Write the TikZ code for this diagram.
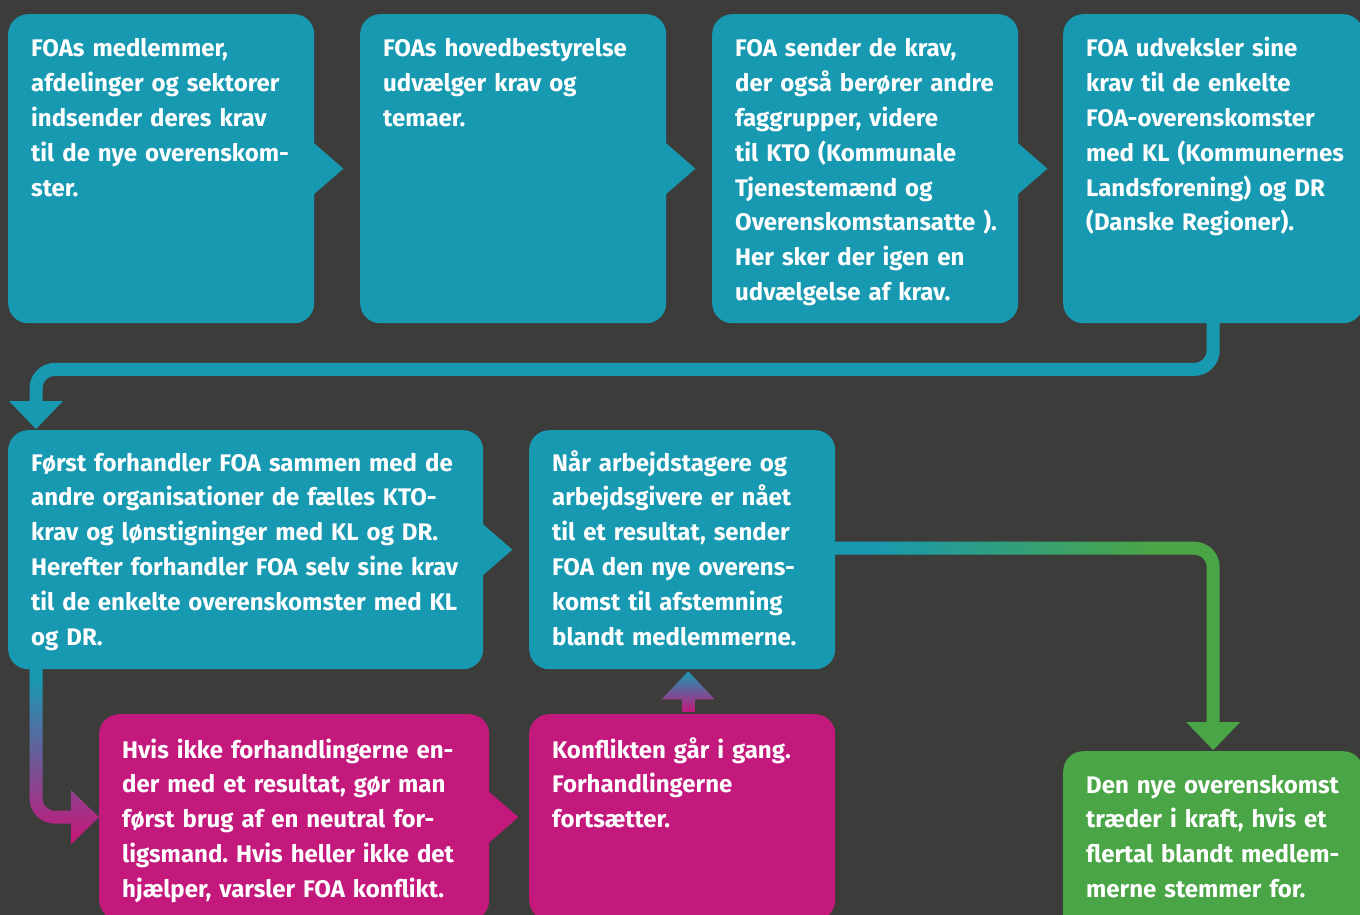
\documentclass[tikz,border=0pt]{standalone}
\usepackage{fontspec}
\setmainfont{Fira Sans}
\usetikzlibrary{arrows.meta,calc}
\definecolor{bg}{HTML}{3C3C3B}
\definecolor{foateal}{HTML}{1899B2}
\definecolor{foamag}{HTML}{C3197C}
\definecolor{foagreen}{HTML}{4AA547}
\frenchspacing
\tikzset{
  box/.style={anchor=north west, inner sep=0pt, rounded corners=20pt, draw=none},
  txt/.style={anchor=base west, inner sep=0pt, text=white,
    font=\fontsize{24}{34.8}\selectfont\bfseries\frenchspacing, text width=480pt, align=left},
  conn/.style={line width=13pt, rounded corners=19pt},
  tip/.style={-{Triangle[width=54pt,length=28pt,line width=0pt]}},
}
\begin{document}
\begin{tikzpicture}[x=1pt,y=-1pt]
\useasboundingbox (0,0) rectangle (1360,915);
\clip (0,0) rectangle (1360,915);
\fill[bg] (0,0) rectangle (1360,915);

% boxes
\node[box, fill=foateal, minimum width=306pt, minimum height=309pt] (b1) at (8,14) {};
\node[box, fill=foateal, minimum width=306pt, minimum height=309pt] (b2) at (360,14) {};
\node[box, fill=foateal, minimum width=306pt, minimum height=309pt] (b3) at (712,14) {};
\node[box, fill=foateal, minimum width=300pt, minimum height=309pt] (b4) at (1063,14) {};
\node[box, fill=foateal, minimum width=475pt, minimum height=239pt] (b5) at (8,430) {};
\node[box, fill=foateal, minimum width=306pt, minimum height=239pt] (b6) at (529,430) {};
\node[box, fill=foamag, minimum width=390pt, minimum height=206pt] (b7) at (99,714) {};
\node[box, fill=foamag, minimum width=306pt, minimum height=206pt] (b8) at (529,714) {};
\node[box, fill=foagreen, minimum width=300pt, minimum height=200pt] (b9) at (1063,751) {};

% pointer tabs
\foreach \b/\c in {b1/foateal,b2/foateal,b3/foateal,b5/foateal,b7/foamag}{
  \fill[\c] ($(\b.east)+(-1,-26)$) -- ($(\b.east)+(29,0)$) -- ($(\b.east)+(-1,26)$) -- cycle;
}

% texts
\node[txt] (t1) at ($(b1.north west)+(23,43)$) {FOAs medlemmer,\\afdelinger og sektorer\\indsender deres krav\\til de nye overenskom-\\ster.};
\node[txt] (t2) at ($(b2.north west)+(23,43)$) {FOAs hovedbestyrelse\\udvælger krav og\\temaer.};
\node[txt] (t3) at ($(b3.north west)+(23,43)$) {FOA sender de krav,\\der også berører andre\\faggrupper, videre\\til KTO (Kommunale\\Tjenestemænd og\\Overenskomstansatte ).\\Her sker der igen en\\udvælgelse af krav.};
\node[txt] (t4) at ($(b4.north west)+(23,43)$) {FOA udveksler sine\\krav til de enkelte\\FOA-overenskomster\\med KL (Kommunernes\\Landsforening) og DR\\(Danske Regioner).};
\node[txt] (t5) at ($(b5.north west)+(23,41)$) {Først forhandler FOA sammen med de\\andre organisationer de fælles KTO-\\krav og lønstigninger med KL og DR.\\Herefter forhandler FOA selv sine krav\\til de enkelte overenskomster med KL\\og DR.};
\node[txt] (t6) at ($(b6.north west)+(23,41)$) {Når arbejdstagere og\\arbejdsgivere er nået\\til et resultat, sender\\FOA den nye overens-\\komst til afstemning\\blandt medlemmerne.};
\node[txt] (t7) at ($(b7.north west)+(23,44)$) {Hvis ikke forhandlingerne en-\\der med et resultat, gør man\\først brug af en neutral for-\\ligsmand. Hvis heller ikke det\\hjælper, varsler FOA konflikt.};
\node[txt] (t8) at ($(b8.north west)+(23,44)$) {Konflikten går i gang.\\Forhandlingerne\\fortsætter.};
\node[txt] (t9) at ($(b9.north west)+(23,42)$) {Den nye overenskomst\\træder i kraft, hvis et\\flertal blandt medlem-\\merne stemmer for.};

% connector b4 -> b5 (solid teal)
\draw[conn, tip, draw=foateal] ($(b4.south)+(0,-2)$) -- ++(0,48) -| ($(b5.north west)+(28,-1)$);

% connector b5 -> b7 (vertical gradient teal -> magenta)
\foreach \i in {0,...,45}{
  \pgfmathsetmacro{\ya}{668+\i*4}
  \pgfmathsetmacro{\yb}{\ya+4.7}
  \pgfmathtruncatemacro{\pc}{max(0,min(100,(840-(\ya+2))/160*100))}
  \begin{scope}
    \clip (0,\ya) rectangle (1360,\yb);
    \draw[conn, tip, draw=foateal!\pc!foamag] ($(b5.south west)+(28,-2)$) |- (b7.west);
  \end{scope}
}

% connector b8 -> b6 (vertical gradient magenta -> teal)
\foreach \i in {0,...,24}{
  \pgfmathsetmacro{\ya}{668+\i*2}
  \pgfmathsetmacro{\yb}{\ya+2.6}
  \pgfmathtruncatemacro{\pc}{max(0,min(100,(712-(\ya+1))/40*100))}
  \begin{scope}
    \clip (0,\ya) rectangle (1360,\yb);
    \draw[line width=13pt, -{Triangle[width=53pt,length=28pt,line width=0pt]}, draw=foateal!\pc!foamag] ($(b8.north)+(6,-2)$) -- ($(b6.south)+(6,2)$);
  \end{scope}
}

% connector b6 -> b9 (horizontal gradient teal -> green)
\foreach \i in {0,...,70}{
  \pgfmathsetmacro{\xa}{832+\i*6}
  \pgfmathsetmacro{\xb}{\xa+6.7}
  \pgfmathtruncatemacro{\pc}{max(0,min(100,(1150-(\xa+3))/280*100))}
  \begin{scope}
    \clip (\xa,0) rectangle (\xb,915);
    \draw[conn, tip, draw=foateal!\pc!foagreen] ($(b6.east)+(-2,-1.5)$) -| ($(b9.north)+(0,-1)$);
  \end{scope}
}
\end{tikzpicture}
\end{document}
